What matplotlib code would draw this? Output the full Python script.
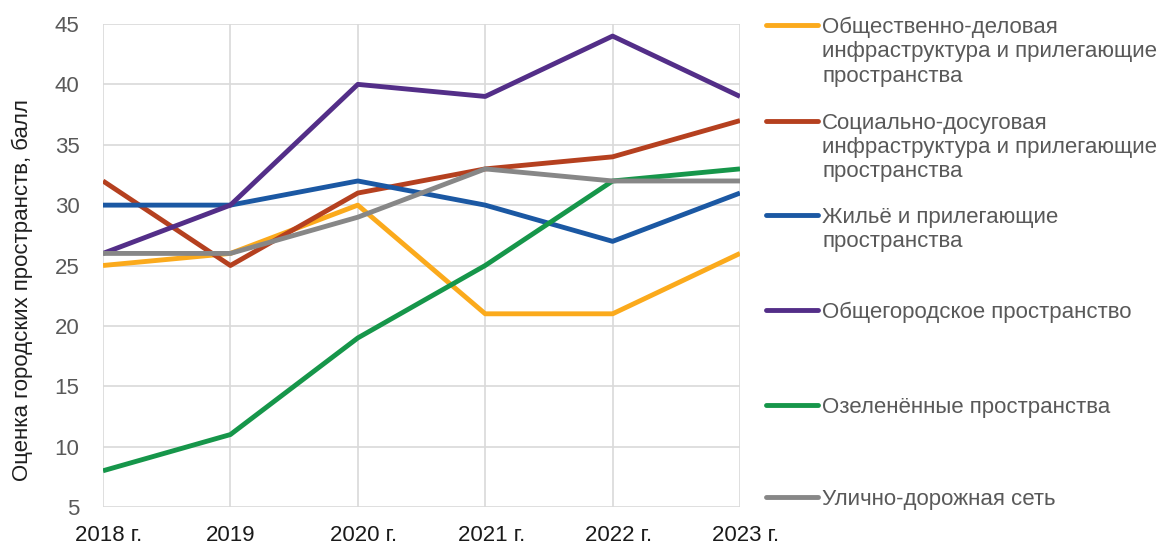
import matplotlib
matplotlib.use("Agg")
import matplotlib.pyplot as plt
from matplotlib.lines import Line2D
from matplotlib.transforms import ScaledTranslation

plt.rcParams['font.family'] = ['Liberation Sans', 'DejaVu Sans']

years = ["2018 г.", "2019", "2020 г.", "2021 г.", "2022 г.", "2023 г."]
series_names = [
    "Общественно-деловая\nинфраструктура и прилегающие\nпространства",
    "Социально-досуговая\nинфраструктура и прилегающие\nпространства",
    "Жильё и прилегающие\nпространства",
    "Общегородское пространство",
    "Озеленённые пространства",
    "Улично-дорожная сеть",
]
business = [25, 26, 30, 21, 21, 26]
social = [32, 25, 31, 33, 34, 37]
housing = [30, 30, 32, 30, 27, 31]
citywide = [26, 30, 40, 39, 44, 39]
green = [8, 11, 19, 25, 32, 33]
roads = [26, 26, 29, 33, 32, 32]
values = [business, social, housing, citywide, green, roads]
colors = ["#FBAA1C", "#B5401F", "#1B58A3", "#532E88", "#16964A", "#878787"]
yticks = [5, 10, 15, 20, 25, 30, 35, 40, 45]

W, H = 1162, 544
FS = 16
fig = plt.figure(figsize=(W / 100, H / 100), dpi=100)
ax = fig.add_axes([103 / W, 1 - 507 / H, (740 - 103) / W, (507 - 24) / H])

x = list(range(len(years)))
for i in range(len(values)):
    ax.plot(x, values[i], color=colors[i], lw=3.5, solid_capstyle='butt', zorder=3)

ax.set_xlim(0, len(years) - 1)
ax.set_ylim(5, 45)
ax.set_yticks(yticks)
ax.set_xticks(x)
ax.set_xticklabels(years, fontsize=FS, color="#1a1a1a")
ax.tick_params(axis='y', labelsize=FS, labelcolor="#595959", length=0, pad=17)
ax.tick_params(axis='x', length=0, pad=13)
for lab in ax.get_xticklabels():
    if lab.get_text().endswith("г."):
        lab.set_transform(lab.get_transform() + ScaledTranslation(6 / 100, 0, fig.dpi_scale_trans))
ax.grid(True, color="#d9d9d9", lw=1.2, zorder=0)
for s in ax.spines.values():
    s.set_visible(False)
ax.set_ylabel("Оценка городских пространств, балл", fontsize=FS, color="#1f1f1f")
ax.yaxis.set_label_coords((33 - 103) / 637, (507 - 290) / 483)

# legend (manual, Excel-style: line aligned with first text line)
legend_y = [25, 121, 215, 310, 405, 497]
for name, col, ly in zip(series_names, colors, legend_y):
    fig.add_artist(Line2D([766 / W, 818 / W], [1 - ly / H, 1 - ly / H], color=col, lw=3.5,
                          solid_capstyle='round', transform=fig.transFigure))
    fig.text(822 / W, 1 - (ly - 8) / H, name, fontsize=FS, color="#595959",
             va='top', ha='left', linespacing=1.2,
             transform=fig.transFigure)

fig.savefig("out.png", dpi=100)
